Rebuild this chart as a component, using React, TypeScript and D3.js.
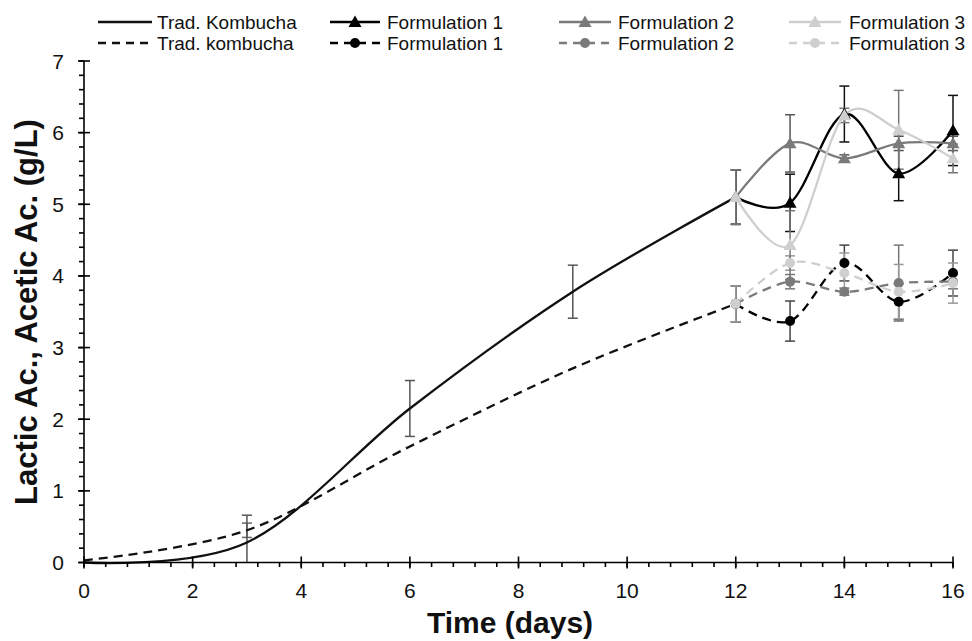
import React from "react";
import * as d3 from "d3";

const tradDays = [0, 3, 6, 9, 12];
const tradLactic = [0, 0.28, 2.15, 3.78, 5.1];
const tradLacticErr = [0, 0.38, 0.39, 0.37, 0.38];
const tradAcetic = [0.03, 0.45, 1.62, 2.71, 3.61];
const tradAceticErr = [0, 0.1, 0, 0, 0.25];

const formDays = [12, 13, 14, 15, 16];
const f1Lactic = [5.1, 5.02, 6.26, 5.43, 6.03];
const f1LacticErr = [0.38, 0.4, 0.39, 0.38, 0.49];
const f2Lactic = [5.1, 5.85, 5.64, 5.85, 5.85];
const f2LacticErr = [0.38, 0.4, 0.05, 0.1, 0.1];
const f3Lactic = [5.1, 4.43, 6.24, 6.04, 5.64];
const f3LacticErr = [0.38, 0.48, 0.1, 0.55, 0.2];

const f1Acetic = [3.61, 3.37, 4.18, 3.64, 4.04];
const f1AceticErr = [0.25, 0.28, 0.25, 0.25, 0.32];
const f2Acetic = [3.61, 3.92, 3.78, 3.9, 3.92];
const f2AceticErr = [0.25, 0.1, 0.05, 0.53, 0.1];
const f3Acetic = [3.61, 4.18, 4.04, 3.78, 3.9];
const f3AceticErr = [0.25, 0.1, 0.28, 0.38, 0.28];

const xTicks = [0, 2, 4, 6, 8, 10, 12, 14, 16];
const yTicks = [0, 1, 2, 3, 4, 5, 6, 7];

const legendRow1 = ["Trad. Kombucha", "Formulation 1", "Formulation 2", "Formulation 3"];
const legendRow2 = ["Trad. kombucha", "Formulation 1", "Formulation 2", "Formulation 3"];

const W = 972;
const H = 641;
const x = d3.scaleLinear().domain([0, 16]).range([84, 953]);
const y = d3.scaleLinear().domain([0, 7]).range([562.5, 61]);
const line = d3
  .line<[number, number]>()
  .x((d) => x(d[0]))
  .y((d) => y(d[1]))
  .curve(d3.curveCardinal.tension(0));

type Series = {
  days: number[];
  vals: number[];
  errs: number[];
  color: string;
  errColor: string;
  dashed: boolean;
  marker: "none" | "tri" | "circle";
};

const BLACK = "#000000";
const GRAY = "#7a7a7a";
const LIGHT = "#cfcfcf";

const series: Series[] = [
  { days: tradDays, vals: tradAcetic, errs: tradAceticErr, color: "#111", errColor: "#666", dashed: true, marker: "none" },
  { days: tradDays, vals: tradLactic, errs: tradLacticErr, color: "#111", errColor: "#555", dashed: false, marker: "none" },
  { days: formDays, vals: f1Acetic, errs: f1AceticErr, color: BLACK, errColor: "#444", dashed: true, marker: "circle" },
  { days: formDays, vals: f2Acetic, errs: f2AceticErr, color: GRAY, errColor: "#777", dashed: true, marker: "circle" },
  { days: formDays, vals: f3Acetic, errs: f3AceticErr, color: LIGHT, errColor: "#999", dashed: true, marker: "circle" },
  { days: formDays, vals: f1Lactic, errs: f1LacticErr, color: BLACK, errColor: "#111", dashed: false, marker: "tri" },
  { days: formDays, vals: f2Lactic, errs: f2LacticErr, color: GRAY, errColor: "#555", dashed: false, marker: "tri" },
  { days: formDays, vals: f3Lactic, errs: f3LacticErr, color: LIGHT, errColor: "#777", dashed: false, marker: "tri" },
];

function Marker({ kind, cx, cy, color }: { kind: string; cx: number; cy: number; color: string }) {
  if (kind === "tri") {
    const s = 6.5;
    return <path d={`M${cx},${cy - s} L${cx + s},${cy + s * 0.75} L${cx - s},${cy + s * 0.75} Z`} fill={color} />;
  }
  if (kind === "circle") return <circle cx={cx} cy={cy} r={5} fill={color} />;
  return null;
}

export default function App() {
  const font = "Liberation Sans, Arial, sans-serif";
  const xMinor = d3.range(0, 16.001, 0.4);
  const yMinor = d3.range(0, 7.001, 0.2);
  const legCols = [
    { lx1: 98, lx2: 152, tx: 157, c1: "#111", c2: "#111", m: "none" },
    { lx1: 330, lx2: 380, tx: 387, c1: BLACK, c2: BLACK, m: "yes" },
    { lx1: 559, lx2: 611, tx: 618, c1: GRAY, c2: GRAY, m: "yes" },
    { lx1: 789, lx2: 841, tx: 849, c1: LIGHT, c2: LIGHT, m: "yes" },
  ];
  return (
    <svg width={W} height={H} style={{ position: "absolute", left: 0, top: 0, background: "#fff" }} fontFamily={font}>
      {series.map((s, si) =>
        s.days.map((d, i) =>
          s.errs[i] > 0 ? (
            <g key={`e${si}-${i}`} stroke={s.errColor} strokeWidth={1.5}>
              <line x1={x(d)} x2={x(d)} y1={y(Math.max(0, s.vals[i] - s.errs[i]))} y2={y(s.vals[i] + s.errs[i])} />
              <line x1={x(d) - 5} x2={x(d) + 5} y1={y(s.vals[i] + s.errs[i])} y2={y(s.vals[i] + s.errs[i])} />
              {s.vals[i] - s.errs[i] > 0 && (
                <line x1={x(d) - 5} x2={x(d) + 5} y1={y(s.vals[i] - s.errs[i])} y2={y(s.vals[i] - s.errs[i])} />
              )}
            </g>
          ) : null
        )
      )}
      {series.map((s, si) => (
        <path
          key={`l${si}`}
          d={line(s.days.map((d, i) => [d, s.vals[i]] as [number, number])) || ""}
          fill="none"
          stroke={s.color}
          strokeWidth={2.3}
          strokeDasharray={s.dashed ? "9,6" : undefined}
        />
      ))}
      {series.map((s, si) =>
        s.days.map((d, i) => <Marker key={`m${si}-${i}`} kind={s.marker} cx={x(d)} cy={y(s.vals[i])} color={s.color} />)
      )}
      <g stroke="#000" strokeWidth={1.6}>
        <line x1={x(0)} x2={x(16)} y1={y(0)} y2={y(0)} />
        <line x1={x(0)} x2={x(0)} y1={y(0)} y2={y(7)} />
        {xMinor.map((v) => (
          <line key={`xm${v}`} x1={x(v)} x2={x(v)} y1={y(0)} y2={y(0) + 4.5} />
        ))}
        {xTicks.map((v) => (
          <line key={`xM${v}`} x1={x(v)} x2={x(v)} y1={y(0) - 6} y2={y(0) + 6} />
        ))}
        {yMinor.map((v) => (
          <line key={`ym${v}`} x1={x(0) - 5} x2={x(0)} y1={y(v)} y2={y(v)} />
        ))}
        {yTicks.map((v) => (
          <line key={`yM${v}`} x1={x(0) - 6} x2={x(0) + 6} y1={y(v)} y2={y(v)} />
        ))}
      </g>
      {xTicks.map((v) => (
        <text key={`xt${v}`} x={x(v)} y={598} textAnchor="middle" fontSize={21} fill="#111">
          {v}
        </text>
      ))}
      {yTicks.map((v) => (
        <text key={`yt${v}`} x={64} y={y(v) + 7.5} textAnchor="end" fontSize={21} fill="#111">
          {v}
        </text>
      ))}
      <text x={510} y={633} textAnchor="middle" fontSize={30} fontWeight="bold" fill="#111">
        Time (days)
      </text>
      <text
        transform="translate(37,312) rotate(-90)"
        textAnchor="middle"
        fontSize={31}
        fontWeight="bold"
        fill="#111"
      >
        Lactic Ac., Acetic Ac. (g/L)
      </text>
      {legCols.map((c, i) => (
        <g key={`lg${i}`}>
          <line x1={c.lx1} x2={c.lx2} y1={22} y2={22} stroke={c.c1} strokeWidth={2.3} />
          {c.m === "yes" && <Marker kind="tri" cx={(c.lx1 + c.lx2) / 2} cy={22} color={c.c1} />}
          <text x={c.tx} y={28.5} fontSize={19} fill="#111">
            {legendRow1[i]}
          </text>
          <line x1={c.lx1} x2={c.lx2} y1={43} y2={43} stroke={c.c2} strokeWidth={2.3} strokeDasharray="8,6" />
          {c.m === "yes" && <Marker kind="circle" cx={(c.lx1 + c.lx2) / 2} cy={43} color={c.c2} />}
          <text x={c.tx} y={49.5} fontSize={19} fill="#111">
            {legendRow2[i]}
          </text>
        </g>
      ))}
    </svg>
  );
}
